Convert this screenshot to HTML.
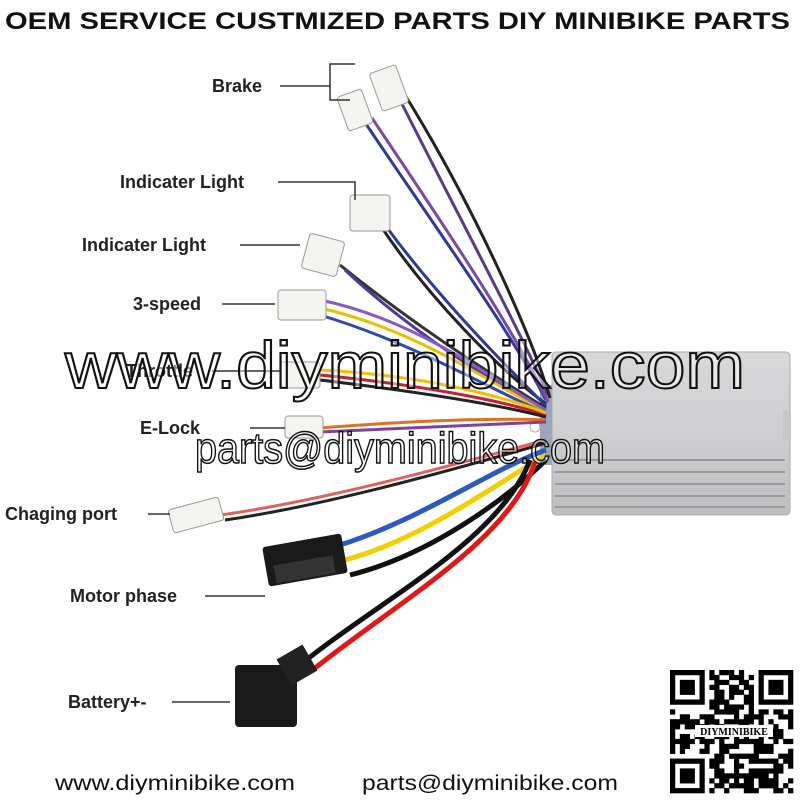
<!DOCTYPE html>
<html><head><meta charset="utf-8"><style>
body{margin:0;background:#fff;width:800px;height:800px;overflow:hidden}
svg{display:block}
.l{font-family:"Liberation Sans",sans-serif;font-weight:bold;font-size:18px;fill:#222}
</style></head><body>
<svg id="s" width="800" height="800" viewBox="0 0 800 800" xmlns="http://www.w3.org/2000/svg">
<defs>
<linearGradient id="bx" x1="0" y1="0" x2="0" y2="1"><stop offset="0" stop-color="#d8d8da"/><stop offset="0.5" stop-color="#cfcfd2"/><stop offset="1" stop-color="#bdbdc0"/></linearGradient>
</defs>
<text x="5" y="29" font-family="Liberation Sans,sans-serif" font-size="24" font-weight="bold" fill="#111" textLength="785" lengthAdjust="spacingAndGlyphs">OEM SERVICE CUSTMIZED PARTS DIY MINIBIKE PARTS</text>

<!-- controller -->
<rect x="540" y="385" width="22" height="80" fill="#9aa5b8"/>
<rect x="552" y="352" width="238" height="163" rx="4" fill="url(#bx)" stroke="#aaa"/>
<g stroke="#999" stroke-width="2">
<line x1="555" y1="460" x2="785" y2="460"/><line x1="555" y1="472" x2="785" y2="472"/><line x1="555" y1="484" x2="785" y2="484"/><line x1="555" y1="496" x2="785" y2="496"/><line x1="555" y1="507" x2="785" y2="507"/>
</g>
<rect x="783" y="410" width="8" height="30" fill="#c8c8ca"/>
<circle cx="535" cy="427" r="5" fill="#fff" stroke="#aaa"/>

<!-- wires -->
<g fill="none" stroke-width="3">
<path d="M395,90 C450,200 520,330 548,395" stroke="#5b3a8c"/>
<path d="M405,95 C470,200 530,330 550,398" stroke="#222"/>
<path d="M360,115 C430,220 510,330 546,400" stroke="#2d3a9a"/>
<path d="M372,118 C440,220 515,330 548,402" stroke="#7a4aa8"/>
<path d="M380,225 C430,300 500,370 546,404" stroke="#222"/>
<path d="M385,225 C440,300 510,370 546,406" stroke="#2d3a9a"/>
<path d="M340,265 C420,330 500,380 546,408" stroke="#333"/>
<path d="M345,270 C420,340 500,385 546,410" stroke="#4a3a9a"/>
<path d="M320,308 C420,330 500,390 546,411" stroke="#e8c000"/>
<path d="M320,315 C420,345 500,395 546,413" stroke="#2d4ab0"/>
<path d="M320,300 C420,320 500,385 546,410" stroke="#8a5ac0"/>
<path d="M320,375 C420,385 500,400 546,415" stroke="#c82030"/>
<path d="M320,380 C420,392 500,405 546,417" stroke="#222"/>
<path d="M320,370 C420,375 500,395 546,413" stroke="#f0c000"/>
<path d="M320,428 C420,420 500,418 546,420" stroke="#e07020"/>
<path d="M320,432 C420,428 500,424 546,422" stroke="#8040a0"/>
<path d="M220,515 C330,500 470,460 546,440" stroke="#e06060"/>
<path d="M225,520 C330,505 470,465 546,443" stroke="#222"/>
<path d="M340,545 C420,520 490,470 546,450" stroke="#2d5ac0" stroke-width="5"/>
<path d="M345,560 C420,540 495,485 546,455" stroke="#f0d000" stroke-width="5"/>
<path d="M350,575 C430,555 505,500 546,460" stroke="#111" stroke-width="5"/>
<path d="M300,665 C380,600 500,540 530,460" stroke="#111" stroke-width="5"/>
<path d="M310,672 C400,600 510,540 535,462" stroke="#e01818" stroke-width="5"/>
</g>

<!-- connectors -->
<g fill="#f4f4f0" stroke="#999" stroke-width="1">
<rect x="375" y="68" width="28" height="40" rx="3" transform="rotate(-20 389 88)"/>
<rect x="342" y="92" width="26" height="36" rx="3" transform="rotate(-20 355 110)"/>
<rect x="350" y="195" width="40" height="36" rx="3"/>
<rect x="305" y="237" width="36" height="36" rx="3" transform="rotate(15 323 255)"/>
<rect x="278" y="290" width="48" height="30" rx="3"/>
<rect x="280" y="362" width="40" height="26" rx="3"/>
<rect x="285" y="416" width="38" height="22" rx="3"/>
<rect x="170" y="503" width="52" height="24" rx="3" transform="rotate(-15 196 515)"/>
</g>
<rect x="265" y="540" width="80" height="40" rx="3" fill="#1a1a1a" transform="rotate(-10 305 560)"/>
<rect x="273" y="560" width="60" height="18" fill="#333" transform="rotate(-10 305 560)"/>
<rect x="235" y="665" width="62" height="62" rx="4" fill="#1a1a1a"/>
<rect x="282" y="650" width="30" height="30" fill="#222" transform="rotate(-30 297 665)"/>

<!-- labels -->
<g stroke="#333" stroke-width="1.5" fill="none">
<polyline points="280,86 330,86"/><polyline points="355,64 330,64 330,100 350,100"/>
<polyline points="278,182 355,182 355,200"/>
<line x1="240" y1="245" x2="300" y2="245"/>
<line x1="222" y1="304" x2="275" y2="304"/>
<line x1="212" y1="371" x2="280" y2="371"/>
<line x1="250" y1="428" x2="285" y2="428"/>
<line x1="148" y1="514" x2="170" y2="514"/>
<line x1="205" y1="596" x2="265" y2="596"/>
<line x1="172" y1="702" x2="230" y2="702"/>
</g>
<text class="l" x="212" y="92">Brake</text>
<text class="l" x="120" y="188">Indicater Light</text>
<text class="l" x="82" y="251">Indicater Light</text>
<text class="l" x="133" y="310">3-speed</text>
<text class="l" x="126" y="377">Throttle</text>
<text class="l" x="140" y="434">E-Lock</text>
<text class="l" x="5" y="520">Chaging port</text>
<text class="l" x="70" y="602">Motor phase</text>
<text class="l" x="68" y="708">Battery+-</text>

<!-- watermark -->
<text x="65" y="388" font-family="Liberation Sans,sans-serif" font-size="66" fill="rgba(255,255,255,0.45)" stroke="#111" stroke-width="2" textLength="680" lengthAdjust="spacingAndGlyphs">www.diyminibike.com</text>
<text x="195" y="463" font-family="Liberation Sans,sans-serif" font-size="44" fill="rgba(255,255,255,0.45)" stroke="#111" stroke-width="1.5" textLength="410" lengthAdjust="spacingAndGlyphs">parts@diyminibike.com</text>

<text x="55" y="790" font-family="Liberation Sans,sans-serif" font-size="21" fill="#111" textLength="240" lengthAdjust="spacingAndGlyphs">www.diyminibike.com</text>
<text x="362" y="790" font-family="Liberation Sans,sans-serif" font-size="21" fill="#111" textLength="256" lengthAdjust="spacingAndGlyphs">parts@diyminibike.com</text>
<g id="qr"></g>
</svg>
<script>
(function(){var g=document.getElementById('qr'),x0=670,y0=670,n=25,m=123/25,s='',seed=7;
function r(){seed=(seed*9301+49297)%233280;return seed/233280;}
function fin(i,j){var f=[[0,0],[0,18],[18,0]];for(var k=0;k<3;k++){var a=i-f[k][0],b=j-f[k][1];if(a>=0&&a<7&&b>=0&&b<7){return (a==0||a==6||b==0||b==6||(a>=2&&a<=4&&b>=2&&b<=4))?1:0;}if(a>=-1&&a<8&&b>=-1&&b<8)return 0;}return -1;}
for(var i=0;i<n;i++)for(var j=0;j<n;j++){var v=fin(i,j);if(v<0)v=r()<0.5?1:0;if(v)s+='<rect x="'+(x0+j*m)+'" y="'+(y0+i*m)+'" width="'+(m+0.3)+'" height="'+(m+0.3)+'" fill="#000"/>';}
s+='<rect x="695" y="725" width="78" height="12" fill="#fff"/><text x="734" y="735" text-anchor="middle" font-family="Liberation Serif,serif" font-size="10" font-weight="bold">DIYMINIBIKE</text>';
g.innerHTML=s;})();
</script>
</body></html>
